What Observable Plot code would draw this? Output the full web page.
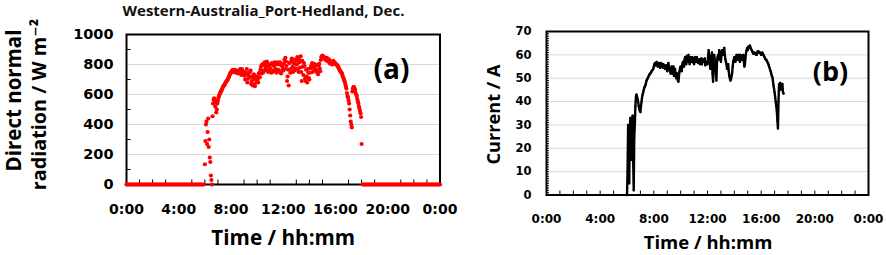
<!DOCTYPE html>
<html><head><meta charset="utf-8">
<script src="https://cdn.jsdelivr.net/npm/d3@7"></script>
<script src="https://cdn.jsdelivr.net/npm/@observablehq/plot@0.6"></script>
<style>
body{margin:0;background:#fff;}
#wrap{position:relative;width:886px;height:255px;overflow:hidden;background:#fff;}
#wrap svg{position:absolute;top:0;overflow:visible;}
</style></head><body><div id="wrap"></div>
<script>
// ---- shared axis categories ----
const hourTicks = [0, 4, 8, 12, 16, 20, 24];
const hourTickLabels = ["0:00", "4:00", "8:00", "12:00", "16:00", "20:00", "0:00"];
const hourMinorTicks = [1,2,3,5,6,7,9,10,11,13,14,15,17,18,19,21,22,23];
const stepMinutes = 5;

// ---- panel (a): direct normal radiation, W m-2 ----
const dniTitle = "Western-Australia_Port-Hedland, Dec.";
const dniTicks = [0, 200, 400, 600, 800, 1000];
const dniMinorTicks = [100, 300, 500, 700, 900];
// readings on the 5-min grid, 0:00 .. 24:00
const dniStartMinute = 0;
const dniValues = [
  0,0,0,0,0,0,0,0,0,0,0,0,            // 0h
  0,0,0,0,0,0,0,0,0,0,0,0,            // 1h
  0,0,0,0,0,0,0,0,0,0,0,0,            // 2h
  0,0,0,0,0,0,0,0,0,0,0,0,            // 3h
  0,0,0,0,0,0,0,0,0,0,0,0,            // 4h
  0,0,0,0,0,0,0,0,0,0,0,0,            // 5h
  135,400,270,440,300,150,30,455,565,545,560,500,   // 6h
  560,590,610,625,640,655,665,680,690,700,715,735,  // 7h
  745,760,755,760,750,758,752,745,760,740,770,735,  // 8h
  750,700,745,680,740,715,760,690,660,735,655,700,  // 9h
  720,680,745,765,740,795,760,815,775,820,750,800,  // 10h
  775,745,800,760,815,770,745,805,760,815,740,790,  // 11h
  760,830,845,790,720,660,810,770,840,750,805,775,  // 12h
  825,850,750,815,855,690,785,810,705,765,680,745,  // 13h
  700,775,795,750,805,775,795,750,735,805,755,850,  // 14h
  860,855,840,830,845,820,835,805,820,800,825,815,  // 15h
  805,800,790,775,760,750,738,715,695,670,640,590,  // 16h
  560,500,420,380,640,650,630,600,570,540,505,475,  // 17h
  270,0,0,0,0,0,0,0,0,0,0,0,          // 18h
  0,0,0,0,0,0,0,0,0,0,0,0,            // 19h
  0,0,0,0,0,0,0,0,0,0,0,0,            // 20h
  0,0,0,0,0,0,0,0,0,0,0,0,            // 21h
  0,0,0,0,0,0,0,0,0,0,0,0,            // 22h
  0,0,0,0,0,0,0,0,0,0,0,0,            // 23h
  0                                    // 24h
];
// extra daytime readings between the grid points, 6:02.5 .. 17:57.5
const dniHalfStartMinute = 362.5;
const dniHalfValues = [
  290,420,350,250,180,60,0,540,575,520,480,540,     // 6h
  580,600,615,630,650,660,670,685,695,710,725,745,  // 7h
  755,762,750,765,745,760,740,755,770,730,760,745,  // 8h
  725,735,770,705,720,750,670,720,700,670,720,680,  // 9h
  700,740,715,785,800,745,810,790,760,805,790,760,  // 10h
  800,810,750,790,760,800,815,765,800,745,795,770,  // 11h
  805,770,820,690,765,810,745,830,785,815,760,835,  // 12h
  800,770,835,780,750,825,730,790,690,720,770,710,  // 13h
  745,785,810,780,760,800,765,745,795,775,830,855,  // 14h
  850,845,835,840,825,830,815,815,810,820,810,810,  // 15h
  800,795,785,770,755,745,725,705,685,655,610,580,  // 16h
  540,460,400,620,650,640,610,590,555,520,490,450   // 17h
];

// ---- panel (b): current, A ----
const currentTicks = [0, 10, 20, 30, 40, 50, 60, 70];
const currentMinorTicks = d3.range(0, 71, 1);
// readings on the 5-min grid, 6:00 .. 17:40
const currentStartMinute = 360;
const currentValues = [
  0,30,5,33,20,34,2,30,42,42,40,37,                       // 6h
  35.5,40,43,45,46.5,48,49.5,50.5,51.5,52,53,53.5,        // 7h
  55,56.5,56,56.5,55.5,56,55,56,54.5,55.5,54,55.5,        // 8h
  53,56.5,54,52,55,53,51,54,50,52,48.5,53,                // 9h
  55,53,57,55,59,56,58,60,56,59,57,58,                    // 10h
  56,59,57,58,56.5,58,57,56,58,57,55.5,57,                // 11h
  56,62,58,55,61,48.5,60,56,49,59,58,61,                  // 12h
  57,62,60,63,58,56,55,53,50,49.5,52,57,                  // 13h
  59,57,60,58,60,57,59.5,58,60,55,59,62,                  // 14h
  62,63,64,62.5,61.5,60.5,61,60.5,60,61.5,61,61,          // 15h
  60,61,60,59,58,57.5,56.5,55,53.5,52,50.5,47,            // 16h
  44,40,36,28.5,47.5,48,45,47.5,43.5                      // 17h
];
// extra readings between the grid points, 6:02.5 .. 17:37.5
const currentHalfStartMinute = 362.5;
const currentHalfValues = [
  10,25,28,15,30,15,25,38,43,41,38,36,                    // 6h
  38,42,44,46,47,49,50,51,52,52.5,53.5,54,                // 7h
  56,55.5,57,55,56.5,54.5,56.5,55,56,54.5,55,54,          // 8h
  55,55,53,54,52,55,53,51.5,52,49,51,54.5,                // 9h
  54,56,56,58,57,59.5,57,58.5,58,57.5,59,56.5,            // 10h
  58,57,59,56.5,58,56,58.5,57.5,57,58.5,57,56,            // 11h
  59,60,54,58,52,57,58,52,57,60,62,59,                    // 12h
  60,61,62,60,57,54,56,51,49,51,55,58,                    // 13h
  58,59,58.5,59.5,58,60,58,59,57,56,61,63,                // 14h
  63.5,63.5,63,62,61,60.5,60.5,60,61,61.5,61,60.5,        // 15h
  60.5,60.5,59.5,58.5,58,57,56,54.5,53,51,49,45.5,        // 16h
  42,38,32,40,47,46,46,44                                 // 17h
];

const toRows = (values, start) => values.map((v, i) => ({hour: (start + i * stepMinutes) / 60, value: v}));
const dni = toRows(dniValues, dniStartMinute).concat(toRows(dniHalfValues, dniHalfStartMinute));
const current = toRows(currentValues, currentStartMinute)
  .concat(toRows(currentHalfValues, currentHalfStartMinute))
  .sort((a, b) => a.hour - b.hour);

const titleFont = "'Open Sans', 'DejaVu Sans', sans-serif";
const tickFont = "'DejaVu Sans', sans-serif";
const fmtHour = d => hourTickLabels[hourTicks.indexOf(d)];
const fmtNum = d => String(d);

// ---------- panel (a) ----------
const A = {width: 450, height: 255, mL: 126, mR: 10.5, mT: 34, mB: 71};
const aPxX = 24 / (A.width - A.mL - A.mR);
const aPxY = 1000 / (A.height - A.mT - A.mB);
const plotA = Plot.plot({
  width: A.width, height: A.height,
  marginLeft: A.mL, marginRight: A.mR, marginTop: A.mT, marginBottom: A.mB,
  style: {color: "black", background: "transparent"},
  x: {domain: [0, 24]},
  y: {domain: [0, 1000]},
  marks: [
    Plot.ruleY(dniTicks, {y: d => d, stroke: "#d9d9d9", strokeWidth: 1}),
    Plot.ruleY(dniMinorTicks, {y: d => d, x1: 0, x2: 4.5 * aPxX, stroke: "black", strokeWidth: 1}),
    Plot.ruleX(hourMinorTicks, {x: d => d, y1: 0, y2: 4.5 * aPxY, stroke: "black", strokeWidth: 1}),
    Plot.frame({stroke: "black", strokeWidth: 2}),
    Plot.axisY(dniTicks, {label: null, tickSize: 0, tickPadding: 13, tickFormat: fmtNum, fontFamily: tickFont, fontWeight: "bold", fontSize: 14.5}),
    Plot.axisX(hourTicks, {label: null, tickSize: 0, tickPadding: 20, tickFormat: fmtHour, fontFamily: tickFont, fontWeight: "bold", fontSize: 14}),
    Plot.dot(dni, {x: "hour", y: "value", r: 2.1, fill: "#ff0000", stroke: null}),
    Plot.text([dniTitle], {text: d => d, frameAnchor: "top-left", dx: 137, dy: -23.2, textAnchor: "middle", lineAnchor: "middle", fontFamily: titleFont, fontWeight: 700, fontSize: 15, fill: "#111"}),
    Plot.text(["Direct normal"], {text: d => d, frameAnchor: "top-left", dx: -112.5, dy: 66, rotate: -90, textAnchor: "middle", lineAnchor: "middle", fontFamily: titleFont, fontWeight: 700, fontSize: 20.5, fill: "black"}),
    Plot.text(["radiation / W m\u207B\u00B2"], {text: d => d, frameAnchor: "top-left", dx: -87.2, dy: 70, rotate: -90, textAnchor: "middle", lineAnchor: "middle", fontFamily: titleFont, fontWeight: 700, fontSize: 19.8, fill: "black"}),
    Plot.text(["(a)"], {text: d => d, frameAnchor: "top-left", dx: 265, dy: 35.3, textAnchor: "middle", lineAnchor: "middle", fontFamily: titleFont, fontWeight: 700, fontSize: 28, fill: "black"}),
    Plot.text(["Time / hh:mm"], {text: d => d, frameAnchor: "top-left", dx: 156.75, dy: 204, textAnchor: "middle", lineAnchor: "middle", fontFamily: titleFont, fontWeight: 700, fontSize: 20.7, fill: "black"})
  ]
});
plotA.style.left = "0px";

// ---------- panel (b) ----------
const B = {width: 436, height: 255, mL: 96, mR: 18, mT: 31, mB: 60.5};
const bPxX = 24 / (B.width - B.mL - B.mR);
const bPxY = 70 / (B.height - B.mT - B.mB);
const plotB = Plot.plot({
  width: B.width, height: B.height,
  marginLeft: B.mL, marginRight: B.mR, marginTop: B.mT, marginBottom: B.mB,
  style: {color: "black", background: "transparent"},
  x: {domain: [0, 24]},
  y: {domain: [0, 70]},
  marks: [
    Plot.ruleY(currentTicks, {y: d => d, stroke: "#d9d9d9", strokeWidth: 1}),
    Plot.ruleY(currentMinorTicks, {y: d => d, x1: 0, x2: 3 * bPxX, stroke: "black", strokeWidth: 1}),
    Plot.ruleX(hourMinorTicks.concat([4, 8, 12, 16, 20]), {x: d => d, y1: 0, y2: 4 * bPxY, stroke: "black", strokeWidth: 1}),
    Plot.frame({stroke: "black", strokeWidth: 2}),
    Plot.axisY(currentTicks, {label: null, tickSize: 0, tickPadding: 15, tickFormat: fmtNum, fontFamily: tickFont, fontWeight: "bold", fontSize: 11.5}),
    Plot.axisX(hourTicks, {label: null, tickSize: 0, tickPadding: 19.4, tickFormat: fmtHour, fontFamily: tickFont, fontWeight: "bold", fontSize: 12}),
    Plot.line(current, {x: "hour", y: "value", stroke: "black", strokeWidth: 2.4}),
    Plot.dot(current, {x: "hour", y: "value", r: 1.1, fill: "black", stroke: null}),
    Plot.text(["Current / A"], {text: d => d, frameAnchor: "top-left", dx: -52.8, dy: 83, rotate: -90, textAnchor: "middle", lineAnchor: "middle", fontFamily: titleFont, fontWeight: 700, fontSize: 18.2, fill: "black"}),
    Plot.text(["(b)"], {text: d => d, frameAnchor: "top-left", dx: 284, dy: 40.6, textAnchor: "middle", lineAnchor: "middle", fontFamily: titleFont, fontWeight: 700, fontSize: 27, fill: "black"}),
    Plot.text(["Time / hh:mm"], {text: d => d, frameAnchor: "top-left", dx: 161.5, dy: 212, textAnchor: "middle", lineAnchor: "middle", fontFamily: titleFont, fontWeight: 700, fontSize: 18.5, fill: "black"})
  ]
});
plotB.style.left = "450px";

const wrap = document.getElementById("wrap");
wrap.appendChild(plotA);
wrap.appendChild(plotB);
</script></body></html>
